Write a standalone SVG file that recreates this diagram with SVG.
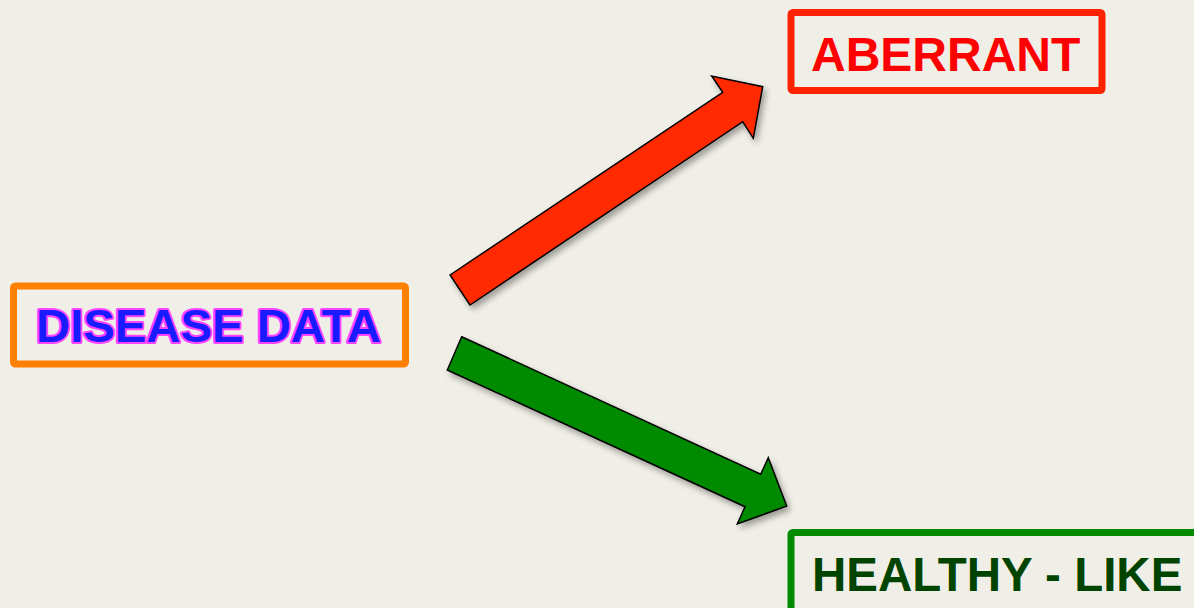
<svg xmlns="http://www.w3.org/2000/svg" width="1194" height="608" viewBox="0 0 1194 608">
  <style>
    .box { fill: none; stroke-width: 7; }
    .label { font-family: "Liberation Sans", Arial, sans-serif; font-weight: bold; }
    .arrow { stroke: #000; stroke-width: 1.5; stroke-linejoin: miter; filter: url(#shadow); }
  </style>
  <defs>
    <filter id="shadow" x="-20%" y="-20%" width="150%" height="150%">
      <feGaussianBlur in="SourceAlpha" stdDeviation="3"/>
      <feOffset dx="3" dy="4" result="b"/>
      <feComponentTransfer><feFuncA type="linear" slope="0.35"/></feComponentTransfer>
      <feMerge><feMergeNode/><feMergeNode in="SourceGraphic"/></feMerge>
    </filter>
  </defs>
  <rect width="1194" height="608" fill="#f0efe7"/>

  <g id="connectors">
    <polygon class="arrow" fill="#ff2a00" points="450,275 722.7,92.3 711.7,76 762.7,86.7 753.3,138.3 742.7,121.7 470,305"/>
    <polygon class="arrow" fill="#008a00" points="461.7,336.7 760.7,474.3 768.3,457.7 786.7,506 737.3,524 745,506.7 447.3,370"/>
  </g>

  <g id="disease-data">
    <rect class="box" x="13.5" y="286" width="392" height="78" rx="2" stroke="#ff7f00"/>
    <text class="label" x="36" y="342" font-size="46" fill="#1a1aff" stroke="#ff44ff" stroke-width="4" stroke-linejoin="round" paint-order="stroke" textLength="345" lengthAdjust="spacingAndGlyphs">DISEASE DATA</text>
  </g>

  <g id="aberrant">
    <rect class="box" x="791" y="12.5" width="311" height="78" rx="2" stroke="#ff2200"/>
    <text class="label" x="811" y="70.5" font-size="48" fill="#ff0000">ABERRANT</text>
  </g>

  <g id="healthy-like">
    <rect class="box" x="791" y="532.5" width="420" height="90" rx="2" stroke="#008a00"/>
    <text class="label" x="812" y="590.5" font-size="47.5" fill="#004400">HEALTHY - LIKE</text>
  </g>
</svg>
